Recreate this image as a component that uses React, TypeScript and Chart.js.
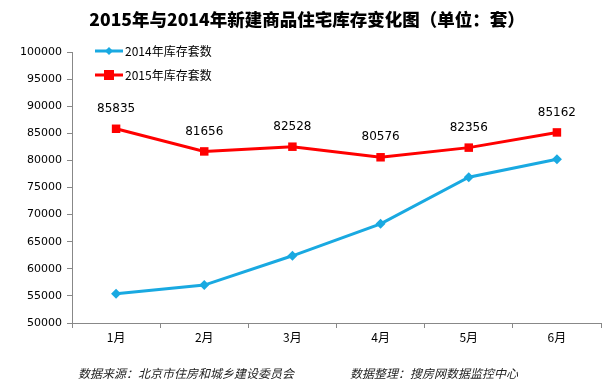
import React, { useEffect, useRef } from "react";
import { Chart, registerables } from "chart.js";

Chart.register(...registerables);

const categories = ["1月", "2月", "3月", "4月", "5月", "6月"];
const series2014 = [55400, 57000, 62400, 68300, 76900, 80200];
const series2015 = [85835, 81656, 82528, 80576, 82356, 85162];
const yMin = 50000;
const yMax = 100000;
const yStep = 5000;
const titleText = "2015年与2014年新建商品住宅库存变化图（单位：套）";
const footerLeft = "数据来源：北京市住房和城乡建设委员会";
const footerRight = "数据整理：搜房网数据监控中心";
const label2014 = "2014年库存套数";
const label2015 = "2015年库存套数";

const BLUE = "#19A9E1";
const RED = "#FF0000";
const CJK = '"Noto Sans CJK SC", "DejaVu Sans", sans-serif';

export default function App() {
  const ref = useRef<HTMLCanvasElement | null>(null);
  useEffect(() => {
    document.body.style.margin = "0";
    const canvas = ref.current;
    if (!canvas) return;

    const decor = {
      id: "decor",
      afterDatasetsDraw(chart: any) {
        const ctx = chart.ctx;
        ctx.save();
        // data labels for 2015
        const meta = chart.getDatasetMeta(1);
        ctx.fillStyle = "#000";
        ctx.font = '12px "DejaVu Sans", sans-serif';
        ctx.textAlign = "center";
        ctx.textBaseline = "middle";
        meta.data.forEach((el: any, i: number) => {
          ctx.fillText(String(series2015[i]), el.x, el.y - 20);
        });
        // legend
        const items = [
          { label: label2014, color: BLUE, y: 51, shape: "diamond" },
          { label: label2015, color: RED, y: 75, shape: "square" },
        ];
        items.forEach((it) => {
          ctx.strokeStyle = it.color;
          ctx.lineWidth = 3;
          ctx.beginPath();
          ctx.moveTo(95, it.y);
          ctx.lineTo(123, it.y);
          ctx.stroke();
          ctx.fillStyle = it.color;
          const cx = 109;
          if (it.shape === "diamond") {
            ctx.beginPath();
            ctx.moveTo(cx, it.y - 4);
            ctx.lineTo(cx + 4, it.y);
            ctx.lineTo(cx, it.y + 4);
            ctx.lineTo(cx - 4, it.y);
            ctx.closePath();
            ctx.fill();
          } else {
            ctx.fillRect(cx - 5, it.y - 5, 10, 10);
          }
          ctx.fillStyle = "#000";
          ctx.textAlign = "left";
          ctx.font = "12px " + CJK;
          ctx.fillText(it.label, 125, it.y);
        });
        // title
        ctx.textAlign = "center";
        ctx.font = "900 17.5px " + CJK;
        ctx.fillText(titleText, 307, 19);
        // footer
        ctx.textAlign = "left";
        ctx.font = "italic 12px " + CJK;
        ctx.fillStyle = "#222";
        ctx.fillText(footerLeft, 78, 373);
        ctx.fillText(footerRight, 350, 373);
        ctx.restore();
      },
    };

    const chart = new Chart(canvas, {
      type: "line",
      data: {
        labels: categories,
        datasets: [
          {
            label: label2014,
            data: series2014,
            borderColor: BLUE,
            backgroundColor: BLUE,
            borderWidth: 3,
            pointStyle: "rectRot",
            pointRadius: 5,
            pointBorderWidth: 0,
            tension: 0,
          },
          {
            label: label2015,
            data: series2015,
            borderColor: RED,
            backgroundColor: RED,
            borderWidth: 3,
            pointStyle: "rect",
            pointRadius: 6,
            pointBorderWidth: 0,
            tension: 0,
          },
        ],
      },
      options: {
        animation: false,
        responsive: false,
        maintainAspectRatio: false,
        layout: { padding: { top: 52, right: 6, left: 0, bottom: 0 } },
        plugins: {
          legend: { display: false },
          tooltip: { enabled: false },
          title: { display: false },
        },
        scales: {
          x: {
            offset: true,
            afterFit: (s: any) => {
              s.height = 62;
            },
            grid: {
              offset: true,
              drawOnChartArea: false,
              drawTicks: true,
              tickLength: 5,
              color: "#888",
            },
            border: { color: "#888", width: 1 },
            ticks: {
              color: "#000",
              font: { family: CJK, size: 12 },
              padding: 2,
            },
          },
          y: {
            min: yMin,
            max: yMax,
            afterFit: (s: any) => {
              s.width = 72;
            },
            grid: {
              drawOnChartArea: false,
              drawTicks: true,
              tickLength: 5,
              color: "#888",
            },
            border: { color: "#888", width: 1 },
            ticks: {
              stepSize: yStep,
              color: "#000",
              font: { family: '"DejaVu Sans", sans-serif', size: 11 },
              padding: 5,
              callback: (v: any) => String(v),
            },
          },
        },
      },
      plugins: [decor],
    });
    return () => chart.destroy();
  }, []);

  return (
    <div style={{ width: 607, height: 385, background: "#fff" }}>
      <canvas ref={ref} width={607} height={385} style={{ display: "block" }} />
    </div>
  );
}
